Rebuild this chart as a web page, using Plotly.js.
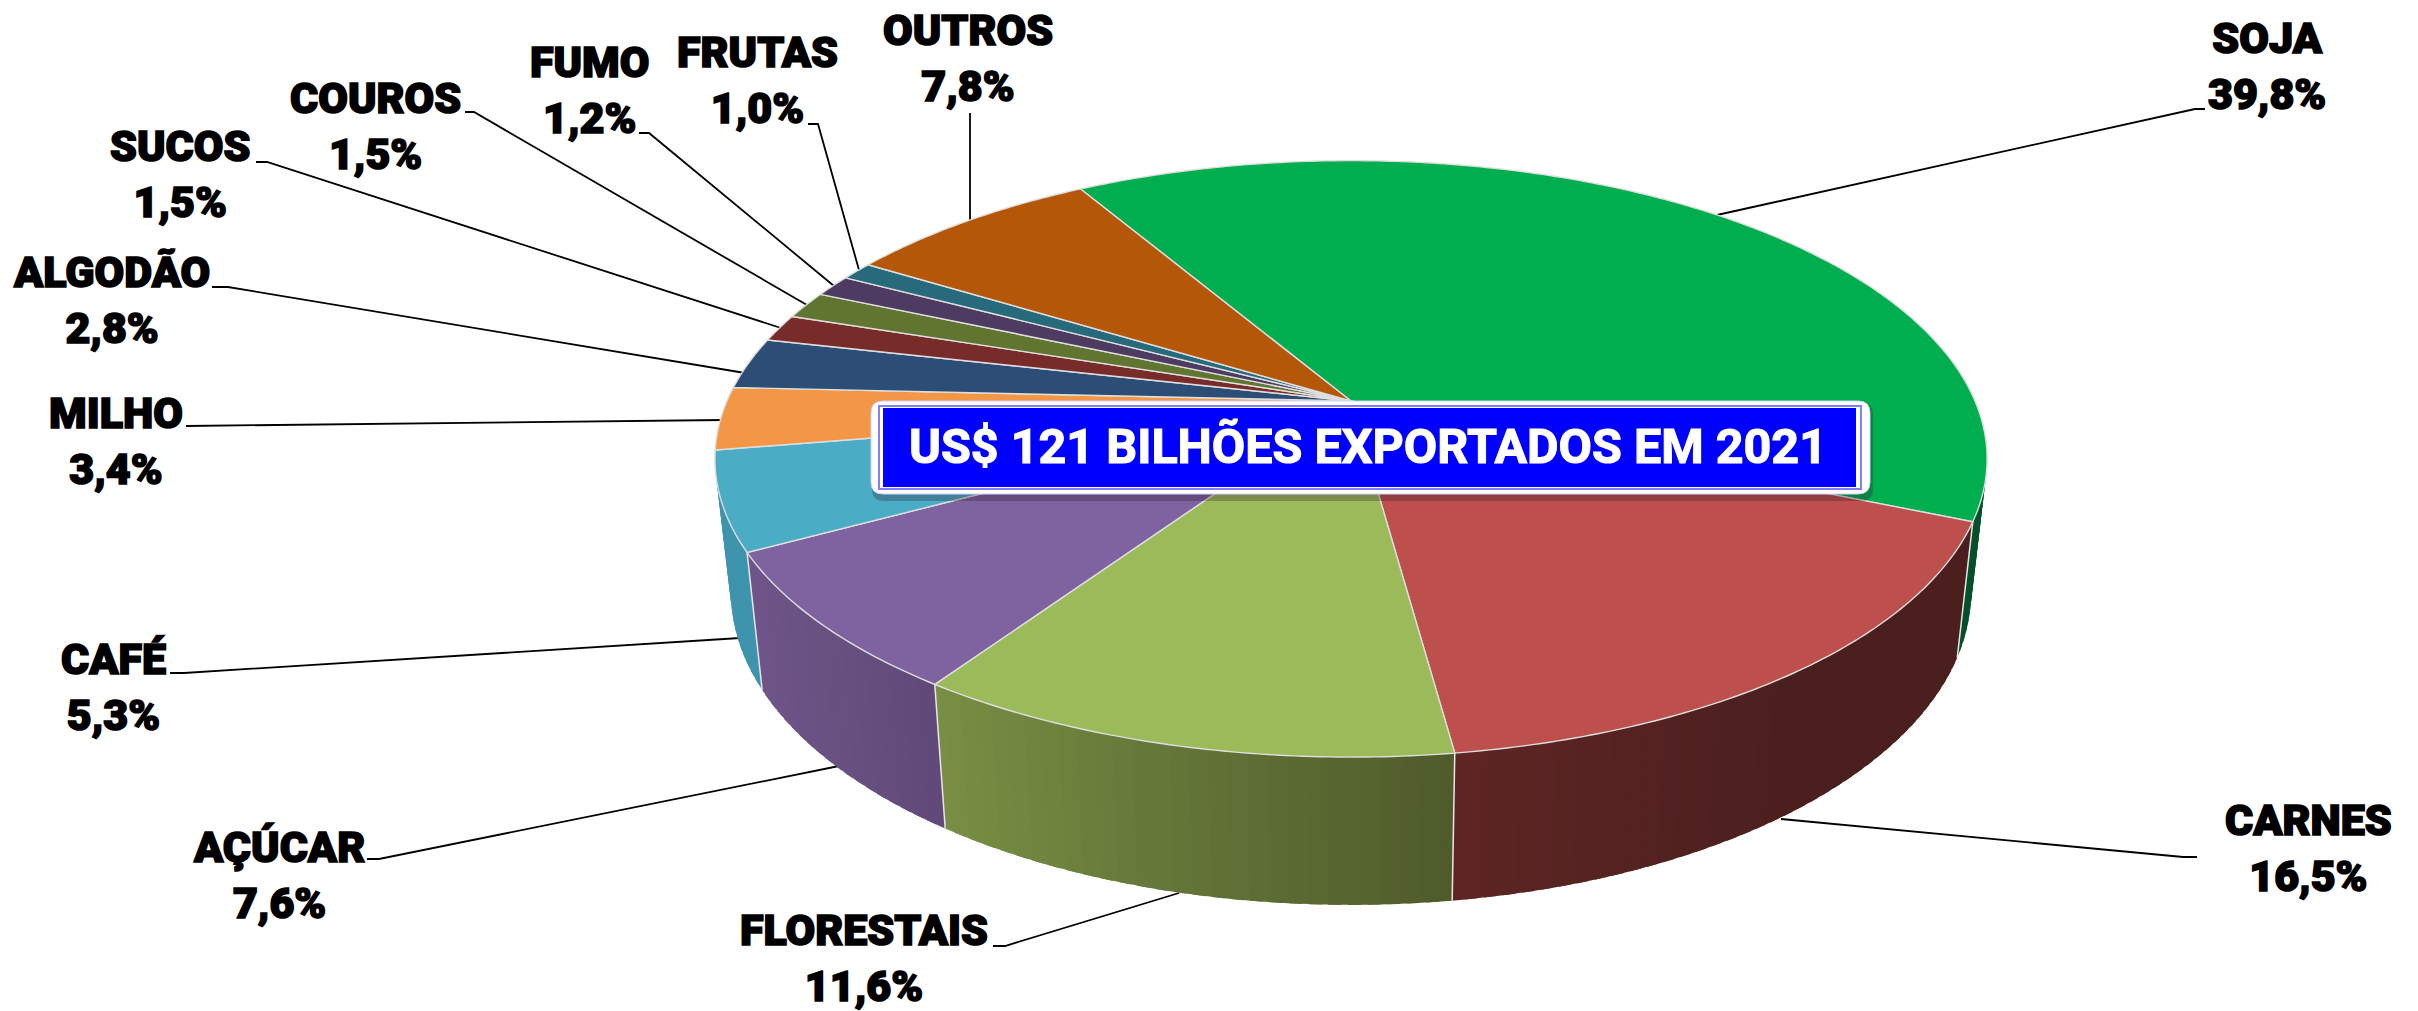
<!DOCTYPE html>
<html><head><meta charset="utf-8">
<script src="https://cdn.plot.ly/plotly-3.0.0.min.js"></script>
<style>html,body{margin:0;padding:0;background:#fff}#c{width:2418px;height:1011px}
.annotation text{stroke:#000;stroke-width:1.6px;paint-order:stroke}
.annotation[data-index="12"] text{stroke:#fff;stroke-width:1.1px}
</style>
</head><body><div id="c"></div>
<script>
// ---- data ----
const categories = ["SOJA","CARNES","FLORESTAIS","AÇÚCAR","CAFÉ","MILHO","ALGODÃO","SUCOS","COUROS","FUMO","FRUTAS","OUTROS"];
const shares = [39.8,16.5,11.6,7.6,5.3,3.4,2.8,1.5,1.5,1.2,1.0,7.8];
const bannerText = "US$ 121 BILHÕES EXPORTADOS EM 2021";
// ---- styles ----
const topColors = ["#00AE50","#BD4F4D","#9BBA59","#7F62A0","#4BACC6","#F39645","#2C4D75","#772C2A","#5F7530","#4D3B62","#276A7C","#B55708"];
const sideLeft  = ["#0A6B35","#5E2624","#788F44","#6F5589","#3F94AD","#C77A38","#24405F","#5F2422","#4C5E27","#3E2F4F","#205663","#8F4506"];
const sideRight = ["#04502A","#4C1F1F","#4E5A2B","#604A78","#3F94AD","#C77A38","#24405F","#5F2422","#4C5E27","#3E2F4F","#205663","#8F4506"];
// ---- label layout (pixel positions, independent of the data) ----
const labelCenterX = [2267,2308,864,279,113,116,111,180,375,589,757,968];
const labelMidY    = [66,848,958,875,687,441,300,174,126,90,80,58];
const leaders = [
 [[2205,109],[2195,109],[1717,215]],
 [[2197,857],[2183,857],[1781,819]],
 [[993,946],[1005,946],[1179,893]],
 [[367,859],[379,859],[839,766]],
 [[170,673],[184,673],[740,638]],
 [[186,426],[723,420]],
 [[212,287],[228,287],[751,374]],
 [[256,162],[267,162],[781,328]],
 [[465,112],[474,112],[807,305]],
 [[639,133],[649,133],[834,286]],
 [[808,124],[818,124],[859,270]],
 [[970,113],[970,221]]
];
// ---- perspective model of the 3D pie ----
const W=2418,H=1011;
const P={cx:1351,cy:401,a:624,b:287,k:0.194,start:-30.4,
         botCy:531,botX:0.975,botY:1.05};
function proj(deg){const t=deg*Math.PI/180,u=Math.sin(t),v=-Math.cos(t),d=1-P.k*v;
  return [P.a*u/d,P.b*v/d,v];}
function topPt(deg){const p=proj(deg);return [P.cx+p[0],P.cy+p[1]];}
function botPt(deg){const p=proj(deg);return [P.cx+P.botX*p[0],P.botCy+P.botY*p[1]];}
function hex2(c){return [1,3,5].map(i=>parseInt(c.substr(i,2),16));}
function mix(a,b,f){const A=hex2(a),B=hex2(b);return "rgb("+A.map((x,i)=>Math.round(x+(B[i]-x)*f)).join(",")+")";}
const total=shares.reduce((s,v)=>s+v,0);
const edges=[P.start];shares.forEach(v=>edges.push(edges[edges.length-1]+v/total*360));
const traces=[];
function poly(xy,fill,lineColor,lw){traces.push({type:"scatter",mode:"lines",x:xy.map(p=>p[0]),y:xy.map(p=>p[1]),
  fill:fill?"toself":"none",fillcolor:fill||undefined,line:{color:lineColor,width:lw,simplify:false},hoverinfo:"skip",showlegend:false});}
// leader lines
leaders.forEach(l=>poly(l,null,"#000",1.8));
// side wall bands, from the back to the front
const bands=[];
shares.forEach((v,i)=>{const s=edges[i],e=edges[i+1];
  const xs=topPt(s)[0],xe=topPt(e)[0],lo=Math.min(xs,xe),hi=Math.max(xs,xe);
  const n=Math.max(1,Math.ceil((e-s)/1.5));
  for(let j=0;j<n;j++){const a0=s+(e-s)*j/n,a1=s+(e-s)*(j+1)/n,mid=(a0+a1)/2;
    const m=((mid%360)+360)%360;
    if(m<70||m>295)continue;
    const f=(topPt(mid)[0]-lo)/(hi-lo);
    const col=i===1?mix(sideRight[1],sideLeft[1],Math.min(1,Math.max(0,(1780-topPt(mid)[0])/330)))
                   :mix(sideLeft[i],sideRight[i],f);
    const b0=Math.max(s,a0-0.5),b1=Math.min(e,a1+0.5);
    bands.push({v:proj(mid)[2],pts:[topPt(b0),topPt(b1),botPt(b1),botPt(b0),topPt(b0)],col});
  }});
bands.sort((p,q)=>p.v-q.v).forEach(b=>poly(b.pts,b.col,b.col,0));
// vertical white edges on the wall
[1,2,3,4].forEach(i=>poly([topPt(edges[i]),botPt(edges[i])],null,"#E6E6E6",1.5));
// top surface
shares.forEach((v,i)=>{const s=edges[i],e=edges[i+1],n=Math.max(6,Math.ceil((e-s)*1.5)),pts=[[P.cx,P.cy]];
  for(let j=0;j<=n;j++)pts.push(topPt(s+(e-s)*j/n));pts.push([P.cx,P.cy]);
  poly(pts,topColors[i],"#DEDEDE",1.4);});
// labels
const anns=categories.map((c,i)=>({xref:"x",yref:"y",x:labelCenterX[i],y:labelMidY[i],
  text:c+"<br>"+shares[i].toFixed(1).replace(".",",")+"%",showarrow:false,align:"center",xanchor:"center",yanchor:"middle",
  font:{family:"Roboto",size:43,color:"#000",weight:900}}));
anns.push({xref:"x",yref:"y",x:1368,y:446,text:bannerText,showarrow:false,xanchor:"center",yanchor:"middle",
  font:{family:"Roboto",size:48.5,color:"#fff",weight:700}});
function rr(x0,y0,x1,y1,r){return `M${x0+r},${y0} L${x1-r},${y0} Q${x1},${y0} ${x1},${y0+r} L${x1},${y1-r} Q${x1},${y1} ${x1-r},${y1} L${x0+r},${y1} Q${x0},${y1} ${x0},${y1-r} L${x0},${y0+r} Q${x0},${y0} ${x0+r},${y0} Z`;}
const shapes=[
 {type:"path",path:rr(872,403,1873,501,12),fillcolor:"rgba(40,20,40,0.28)",line:{width:0}},
 {type:"path",path:rr(871,401,1870,494,12),fillcolor:"#FFFFFF",line:{color:"#D0D0FF",width:1}},
 {type:"rect",x0:878,y0:405,x1:1862,y1:490,fillcolor:"#8080FF",line:{width:0}},
 {type:"rect",x0:880,y0:407,x1:1860,y1:488,fillcolor:"#FFFFFF",line:{width:0}},
 {type:"rect",x0:883,y0:408,x1:1856,y1:487,fillcolor:"#0000FF",line:{width:0}}
];
Plotly.newPlot("c",traces,{width:W,height:H,margin:{l:0,r:0,t:0,b:0},paper_bgcolor:"#fff",plot_bgcolor:"#fff",showlegend:false,
  xaxis:{range:[0,W],visible:false,fixedrange:true},yaxis:{range:[H,0],visible:false,fixedrange:true},
  shapes,annotations:anns,hovermode:false},{displayModeBar:false,staticPlot:true});
</script></body></html>
